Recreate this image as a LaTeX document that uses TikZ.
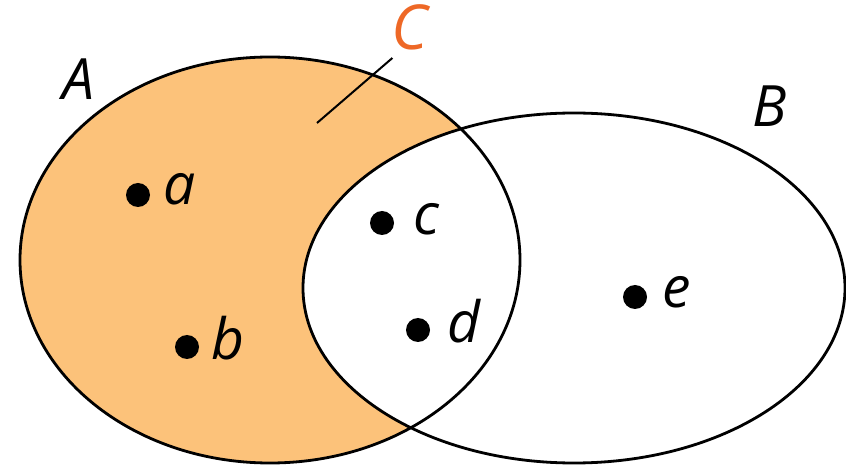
\documentclass[tikz,border=0pt]{standalone}
\usepackage{fontspec}
\setmainfont{Open Sans}
\definecolor{setfill}{RGB}{252,194,122}
\definecolor{setorange}{RGB}{238,104,38}
\begin{document}
\begin{tikzpicture}[x=0.5pt, y=0.5pt, line width=1.4pt,
    pt/.style={circle, fill=black, inner sep=0pt, minimum size=12pt},
    lbl/.style={anchor=base, inner sep=0pt, font=\fontsize{28.5}{31}\selectfont\itshape}]
    \useasboundingbox (0,0) rectangle (846,466);
    % 1. 集合 A 的差集着色 (先填 A，再用白色 B 遮掉交集)
    \fill[setfill] (270,206) ellipse [x radius=250, y radius=203];
    \fill[white] (574,178) ellipse [x radius=271, y radius=175];
    
    % 2. 两个椭圆轮廓
    \draw (270,206) ellipse [x radius=250, y radius=203];
    \draw (574,178) ellipse [x radius=271, y radius=175];
    
    % 3. 集合名与 C 的引线
    \node[lbl] (A) at (78,366) {A};
    \node[lbl] (B) at (770,339) {B};
    \node[lbl, text=setorange, font=\fontsize{31}{34}\selectfont\itshape] (C) at (410,416) {C};
    \coordinate (Ctip) at (317,343);
    \draw[line width=1pt] (Ctip) -- ([xshift=1pt, yshift=-3pt]C.south west);
    
    % 4. 元素点与标号
    \node[pt] (pa) at (138,271) {};
    \node[lbl] (la) at (180,261) {a};
    \node[pt] (pb) at (187,119) {};
    \node[lbl] (lb) at (228,106) {b};
    \node[pt] (pc) at (382,243) {};
    \node[lbl] (lc) at (426,231) {c};
    \node[pt] (pd) at (418,136) {};
    \node[lbl] (ld) at (464,123) {d};
    \node[pt] (pe) at (635,169) {};
    \node[lbl] (le) at (677,158) {e};
\end{tikzpicture}
\end{document}
